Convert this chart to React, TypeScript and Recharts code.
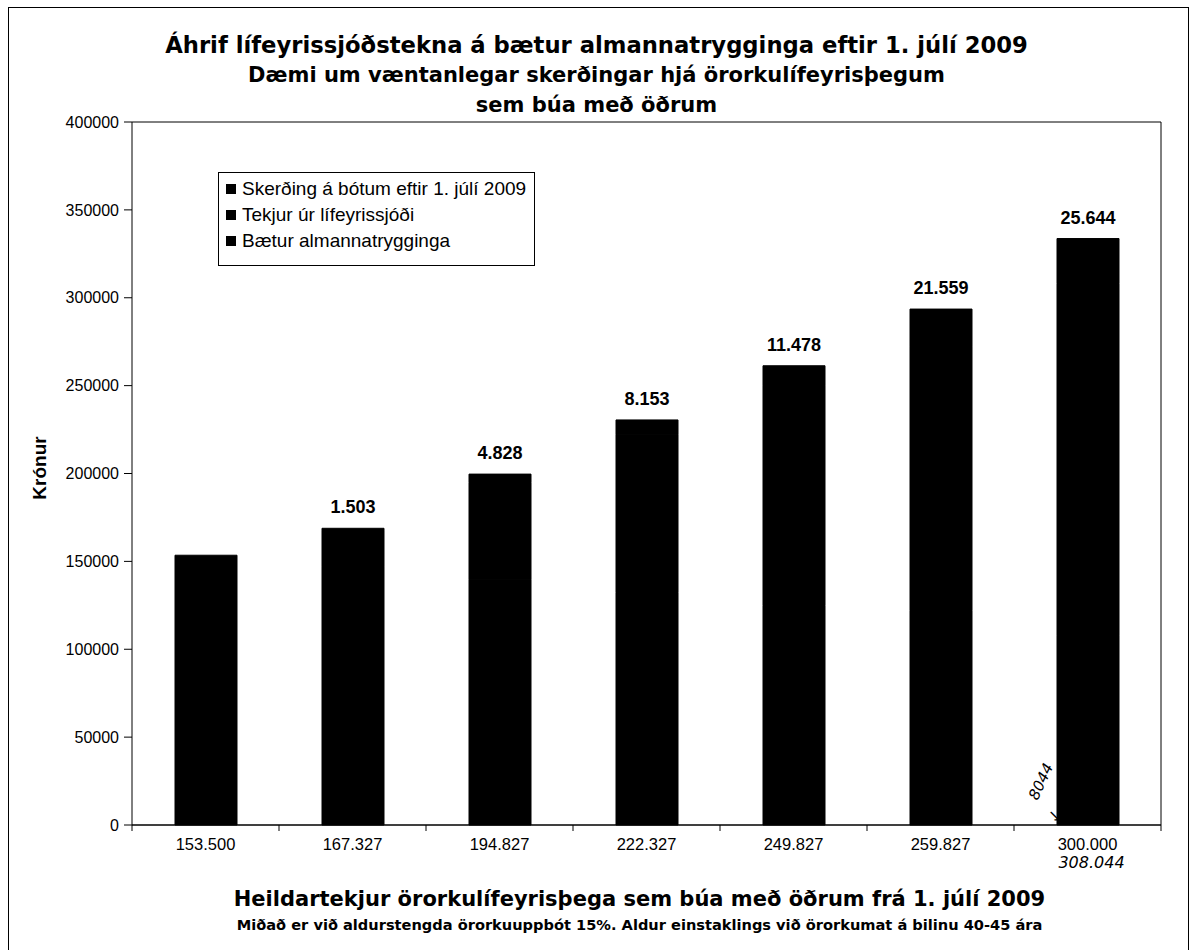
import { BarChart, Bar, XAxis, YAxis, CartesianGrid, LabelList, Legend } from "recharts";

// heildartekjur (flokkar á x-ás)
const categories = ["153.500", "167.327", "194.827", "222.327", "249.827", "259.827", "300.000"];
// stöflun neðan frá: bætur + tekjur úr lífeyrissjóði = heildartekjur, skerðing ofan á
const baetur   = [153500, 147327, 139827, 132327, 124827, 122000, 108044];
const tekjur   = [0, 20000, 55000, 90000, 125000, 150000, 200000];
const skerding = [0, 1503, 4828, 8153, 11478, 21559, 25644];
const yTicks   = [0, 50000, 100000, 150000, 200000, 250000, 300000, 350000, 400000];

const NAME_SKERDING = "Skerðing á bótum eftir 1. júlí 2009";
const NAME_TEKJUR   = "Tekjur úr lífeyrissjóði";
const NAME_BAETUR   = "Bætur almannatrygginga";
const legendOrder   = [NAME_SKERDING, NAME_TEKJUR, NAME_BAETUR];

const data = categories.map((c, i) => ({
  name: c,
  baetur: baetur[i],
  tekjur: tekjur[i],
  skerding: skerding[i],
}));

const W = 1193, H = 950;
const Y_W = 132, YR_W = 32, X_H = 125, TOP = 122;
const HALF_BAND = (W - Y_W - YR_W) / categories.length / 2;
const FONT = '"Liberation Sans", Arial, sans-serif';
const HEAVY = '"DejaVu Sans", "Liberation Sans", sans-serif';

const fmt = (v: any) => (!v ? "" : String(v).replace(/\B(?=(\d{3})+(?!\d))/g, "."));

function XTick({ x, y, payload, index }: any) {
  const last = index === categories.length - 1;
  return (
    <g>
      {index === 0 && <line x1={x - HALF_BAND} x2={x - HALF_BAND} y1={y} y2={y + 6} stroke="#000" />}
      <line x1={x + HALF_BAND} x2={x + HALF_BAND} y1={y} y2={y + 6} stroke="#000" />
      <text x={x} y={y + 25} textAnchor="middle" fontSize={16.5} fill="#000" fontFamily={FONT}>{payload.value}</text>
      {last && (
        <>
          <text x={x + 4} y={y + 43} textAnchor="middle" fontSize={16} fontStyle="italic" fill="#000" fontFamily='"DejaVu Sans", sans-serif'>308.044</text>
          <text transform={`translate(${x - 50},${y - 24}) rotate(-65)`} fontSize={15} fontStyle="italic" fill="#000" fontFamily='"DejaVu Sans", sans-serif'>8044</text>
          <text x={x - 40} y={y - 4} fontSize={16} fill="#000">↘</text>
        </>
      )}
    </g>
  );
}

const renderLegend = ({ payload }: any) => {
  const items = legendOrder.map(n => (payload || []).find((p: any) => p.value === n)).filter(Boolean);
  return (
    <div style={{ border: "1px solid #000", background: "#fff", padding: "3px 8px 11px 7px", fontFamily: FONT }}>
      {items.map((p: any) => (
        <div key={p.value} style={{ display: "flex", alignItems: "center", height: 26, fontSize: 19, color: "#000", whiteSpace: "nowrap" }}>
          <span style={{ display: "inline-block", width: 10, height: 10, background: "#000", marginRight: 6 }} />
          {p.value}
        </div>
      ))}
    </div>
  );
};

const abs = (top: number, extra: any = {}) => ({
  position: "absolute" as const, left: 0, width: W, top, textAlign: "center" as const, lineHeight: 1.2,
  fontFamily: HEAVY, fontWeight: "bold" as const, color: "#000", whiteSpace: "nowrap" as const, ...extra,
});

export default function App() {
  return (
    <div style={{ position: "absolute", left: 0, top: 0, width: W, height: H, background: "#fff", overflow: "hidden" }}>
      {/* rammi utan um */}
      <div style={{ position: "absolute", left: 8, top: 7, width: 1179, height: 960, borderLeft: "1px solid #000", borderTop: "1px solid #000", borderRight: "1px solid #000" }} />

      <BarChart width={W} height={H} data={data} margin={{ top: TOP, right: 0, left: 0, bottom: 0 }} barSize={62}>
        <CartesianGrid vertical={false} stroke="#000" />
        <XAxis dataKey="name" height={X_H} axisLine={{ stroke: "#000" }} tickLine={false} tickSize={0} tickMargin={0} tick={<XTick />} interval={0} />
        <YAxis yAxisId="left" width={Y_W} domain={[0, 400000]} ticks={yTicks} interval={0}
          axisLine={{ stroke: "#000" }} tickLine={{ stroke: "#000" }} tickSize={8} tickMargin={5}
          tick={{ fontSize: 16, fill: "#000", fontFamily: FONT }} />
        <YAxis yAxisId="right" orientation="right" width={YR_W} domain={[0, 400000]} tick={false} tickLine={false} axisLine={{ stroke: "#000" }} />
        <Legend layout="horizontal" verticalAlign="middle" content={renderLegend}
          wrapperStyle={{ left: 218, top: 172, width: "auto", height: "auto" }} />
        <Bar yAxisId="left" dataKey="baetur" name={NAME_BAETUR} stackId="a" fill="#000" stroke="#000" isAnimationActive={false} />
        <Bar yAxisId="left" dataKey="tekjur" name={NAME_TEKJUR} stackId="a" fill="#000" stroke="#000" isAnimationActive={false} />
        <Bar yAxisId="left" dataKey="skerding" name={NAME_SKERDING} stackId="a" fill="#000" stroke="#000" isAnimationActive={false}>
          <LabelList dataKey="skerding" position="top" offset={15} formatter={fmt}
            style={{ fontSize: 18, fontWeight: "bold", fill: "#000", fontFamily: FONT }} />
        </Bar>
      </BarChart>

      <div style={abs(32, { fontSize: 22.7 })}>Áhrif lífeyrissjóðstekna á bætur almannatrygginga eftir 1. júlí 2009</div>
      <div style={abs(63, { fontSize: 21 })}>Dæmi um væntanlegar skerðingar hjá örorkulífeyrisþegum</div>
      <div style={abs(93, { fontSize: 21 })}>sem búa með öðrum</div>

      <div style={{ position: "absolute", left: 40, top: 468, transform: "translate(-50%,-50%) rotate(-90deg)", fontFamily: FONT, fontWeight: "bold", fontSize: 19, color: "#000" }}>Krónur</div>

      <div style={abs(887, { left: Y_W, width: W - Y_W - YR_W - 14, fontSize: 21 })}>Heildartekjur örorkulífeyrisþega sem búa með öðrum frá 1. júlí 2009</div>
      <div style={abs(916, { left: Y_W, width: W - Y_W - YR_W - 14, fontSize: 14.6 })}>Miðað er við aldurstengda örorkuuppbót 15%. Aldur einstaklings við örorkumat á bilinu 40-45 ára</div>
    </div>
  );
}
